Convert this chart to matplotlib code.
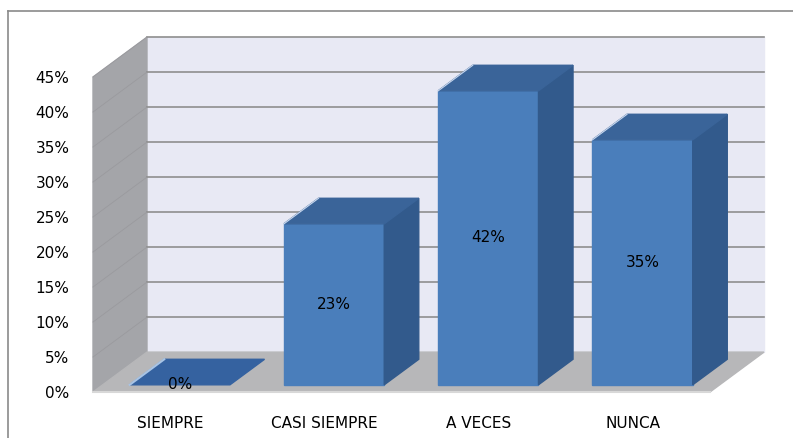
import matplotlib.pyplot as plt
from matplotlib.lines import Line2D

categorias = ['SIEMPRE', 'CASI SIEMPRE', 'A VECES', 'NUNCA']
valores = [0, 23, 42, 35]
etiquetas = ['0%', '23%', '42%', '35%']
ticks_y = [0, 5, 10, 15, 20, 25, 30, 35, 40, 45]

# profundidad oblicua (en unidades de datos)
dx, dy = 0.35, 5.7
ymax = 45
ancho = 0.65
f0, f1 = 0.18, 0.82   # posicion de la barra dentro de la profundidad

fig = plt.figure(figsize=(7.93, 4.38), dpi=100)
ax = fig.add_axes([93 / 793, 46 / 438, 617 / 793, 315 / 438])
ax.set_xlim(-0.5, len(categorias) - 0.5)
ax.set_ylim(0, ymax)
for s in ax.spines.values():
    s.set_visible(False)
ax.patch.set_visible(False)

x0, x1 = -0.5, len(categorias) - 0.5

# pared del fondo
ax.fill([x0 + dx, x1 + dx, x1 + dx, x0 + dx], [dy, dy, ymax + dy, ymax + dy],
        color='#e8e9f4', zorder=1, clip_on=False)
# pared lateral
ax.fill([x0, x0 + dx, x0 + dx, x0], [0, dy, ymax + dy, ymax],
        color='#a4a5a9', zorder=1, clip_on=False)
# piso
ax.fill([x0, x1, x1 + dx, x0 + dx], [0, 0, dy, dy],
        color='#b7b7b9', zorder=2, clip_on=False)
ax.plot([x0, x1], [0, 0], color='#d8d8d8', lw=1.5, zorder=2, clip_on=False)

# lineas de cuadricula
for t in ticks_y[1:]:
    ax.plot([x0 + dx, x1 + dx], [t + dy, t + dy], color='#8e8e8e', lw=1.2, zorder=2, clip_on=False)
    ax.plot([x0, x0 + dx], [t, t + dy], color='#9a9a9e', lw=0.6, zorder=2, clip_on=False)

# barras
for i, (v, lab) in enumerate(zip(valores, etiquetas)):
    xl = i - ancho / 2 + f0 * dx
    xr = i + ancho / 2 + f0 * dx
    yb = f0 * dy
    ddx = (f1 - f0) * dx
    ddy = (f1 - f0) * dy
    if v > 0:
        ax.fill([xl, xr, xr, xl], [yb, yb, yb + v, yb + v], color='#4a7ebb', zorder=3, clip_on=False)
        ax.fill([xr, xr + ddx, xr + ddx, xr], [yb, yb + ddy, yb + v + ddy, yb + v],
                color='#325a8c', zorder=3, clip_on=False)
        ax.fill([xl, xr, xr + ddx, xl + ddx], [yb + v, yb + v, yb + v + ddy, yb + v + ddy],
                color='#3a6499', zorder=3, clip_on=False)
        ax.plot([xl, xl + ddx], [yb + v, yb + v + ddy], color='#c9d8ee', lw=0.8, zorder=3, clip_on=False)
    else:
        ax.fill([xl, xr, xr + ddx, xl + ddx], [yb, yb, yb + ddy, yb + ddy],
                color='#3562a0', zorder=3, clip_on=False)
        ax.plot([xl, xl + ddx], [yb, yb + ddy], color='#a9c4e4', lw=1.5, zorder=3, clip_on=False)
    ax.text(i + f0 * dx, yb + v / 2, lab, ha='center', va='center', fontsize=11,
            color='black', zorder=4)

ax.set_yticks(ticks_y)
ax.set_yticklabels([f'{t}%' for t in ticks_y], fontsize=11)
ax.set_xticks(range(len(categorias)))
ax.set_xticklabels(categorias, fontsize=11)
ax.tick_params(axis='y', length=0, pad=17)
ax.tick_params(axis='x', length=0, pad=17)

# marco exterior
fig.add_artist(Line2D([8 / 793, 8 / 793], [0, 1 - 11 / 438], color='#8a8a8a', lw=1.2))
fig.add_artist(Line2D([8 / 793, 1], [1 - 11 / 438, 1 - 11 / 438], color='#8a8a8a', lw=1.2))

plt.savefig('out.png', dpi=100)
